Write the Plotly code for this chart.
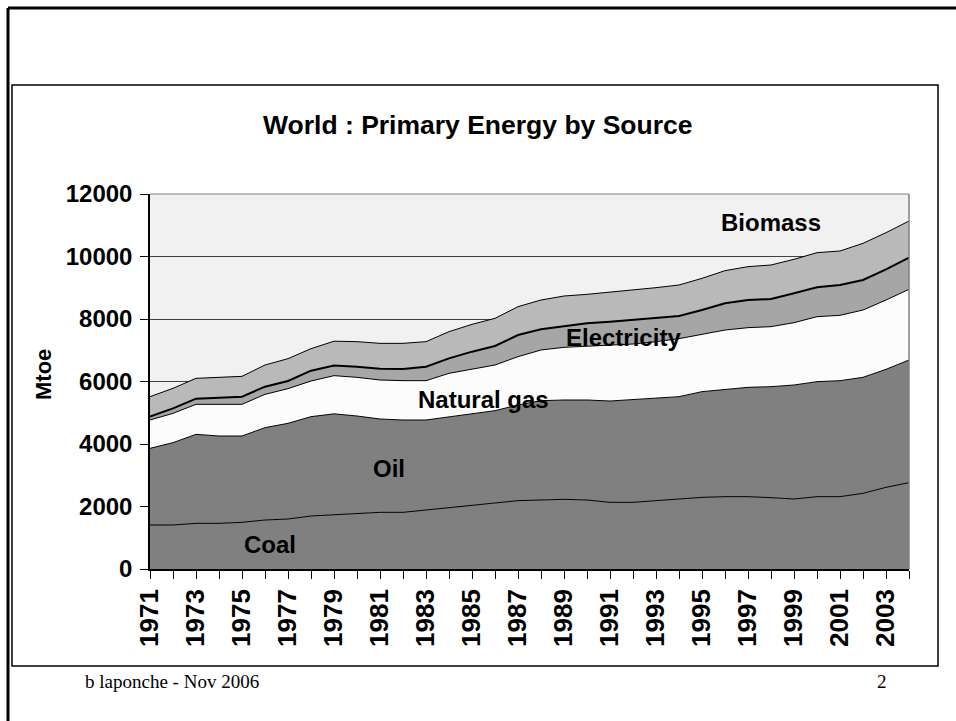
import plotly.graph_objects as go

# World primary energy by source, Mtoe
years = list(range(1971, 2005))

coal = [1408, 1408, 1461, 1461, 1493, 1568, 1600, 1696, 1735, 1781,
        1813, 1813, 1888, 1973, 2048, 2101, 2187, 2208, 2229, 2208,
        2133, 2133, 2187, 2229, 2293, 2315, 2315, 2283, 2240, 2315,
        2315, 2421, 2613, 2763]
oil = [2453, 2635, 2848, 2795, 2763, 2955, 3061, 3179, 3230, 3115,
       2987, 2955, 2880, 2902, 2933, 2966, 3061, 3179, 3179, 3200,
       3243, 3296, 3274, 3286, 3382, 3434, 3498, 3552, 3648, 3680,
       3712, 3712, 3776, 3925]
natural_gas = [907, 938, 960, 1013, 1013, 1066, 1110, 1141, 1222, 1237,
               1248, 1259, 1259, 1386, 1408, 1461, 1547, 1621, 1685, 1728,
               1792, 1771, 1814, 1856, 1834, 1899, 1910, 1920, 1995, 2080,
               2090, 2155, 2219, 2261]
electricity = [107, 160, 182, 214, 246, 246, 245, 331, 325, 342,
               363, 373, 448, 480, 566, 608, 693, 661, 683, 725,
               747, 768, 768, 725, 779, 853, 885, 885, 938, 938,
               971, 960, 981, 1014]
biomass = [640, 640, 650, 650, 650, 693, 715, 704, 778, 800,
           810, 821, 800, 854, 874, 885, 907, 939, 960, 928,
           938, 960, 960, 992, 1013, 1046, 1067, 1088, 1088, 1110,
           1088, 1173, 1174, 1173]

# label text and where it sits (year, Mtoe)
series_labels = [
    ("Coal", 1976.2, 770),
    ("Oil", 1981.4, 3230),
    ("Natural gas", 1985.5, 5410),
    ("Electricity", 1991.6, 7420),
    ("Biomass", 1998.0, 11100),
]

FONT = "Arial, Liberation Sans, sans-serif"
SERIF = "Times New Roman, Liberation Serif, serif"

W, H = 956, 721
L, R, T, B = 150, 47, 194, 152
PW, PH = W - L - R, H - T - B


def px(x):
    return (x - L) / PW


def py(y):
    return (H - B - y) / PH


fig = go.Figure()

layers = [
    ("Coal", coal, "#808080", 1),
    ("Oil", oil, "#808080", 1),
    ("Natural gas", natural_gas, "#FCFCFC", 1),
    ("Electricity", electricity, "#A6A6A6", 2),
    ("Biomass", biomass, "#B9B9B9", 1),
]
for name, vals, color, lw in layers:
    fig.add_trace(
        go.Scatter(
            x=years,
            y=vals,
            name=name,
            mode="lines",
            stackgroup="energy",
            fillcolor=color,
            line=dict(color="black", width=lw),
            hoverinfo="skip",
            showlegend=False,
        )
    )

annotations = []
for text, xv, yv in series_labels:
    annotations.append(dict(
        x=xv, y=yv, xref="x", yref="y", text=f"<b>{text}</b>",
        showarrow=False, font=dict(family=FONT, size=24, color="black"),
    ))


def paper_note(x, y, text, size, family=FONT, **kw):
    return dict(x=px(x), y=py(y), xref="paper", yref="paper", text=text,
                xanchor="center", yanchor="middle", showarrow=False,
                font=dict(family=family, size=size, color="black"), **kw)


# chart title, axis title and slide footer
annotations += [
    paper_note(478, 125, "<b>World : Primary Energy by Source</b>", 26.5),
    paper_note(43, 375, "<b>Mtoe</b>", 22, textangle=-90),
    paper_note(172, 681, "b laponche - Nov 2006", 19, family=SERIF),
    paper_note(882, 681, "2", 19, family=SERIF),
]

shapes = [
    # slide border (left and top)
    dict(type="line", xref="paper", yref="paper", x0=px(8), x1=px(8),
         y0=py(8), y1=py(725), line=dict(color="black", width=3)),
    dict(type="line", xref="paper", yref="paper", x0=px(8), x1=px(960),
         y0=py(8), y1=py(8), line=dict(color="black", width=3)),
    # chart box
    dict(type="rect", xref="paper", yref="paper", x0=px(12), x1=px(938),
         y0=py(666), y1=py(85), line=dict(color="black", width=1.5)),
    # plot area border (right/top)
    dict(type="line", xref="paper", yref="paper", x0=1, x1=1, y0=0, y1=1,
         line=dict(color="#808080", width=1.5)),
    dict(type="line", xref="paper", yref="paper", x0=0, x1=1, y0=1, y1=1,
         line=dict(color="#808080", width=1)),
]

fig.update_layout(
    width=W,
    height=H,
    margin=dict(l=L, r=R, t=T, b=B),
    paper_bgcolor="white",
    plot_bgcolor="#F1F1F1",
    showlegend=False,
    annotations=annotations,
    shapes=shapes,
    font=dict(family=FONT, color="black"),
)

fig.update_xaxes(
    range=[1971, 2004],
    tickvals=years,
    ticktext=[f"<b>{y}</b>" if y % 2 == 1 else "" for y in years],
    tickangle=-90,
    tickfont=dict(family=FONT, size=26, color="black"),
    ticks="outside",
    ticklen=8,
    tickcolor="black",
    showline=True,
    linecolor="black",
    linewidth=1.5,
    showgrid=False,
    zeroline=False,
)
fig.update_yaxes(
    range=[0, 12000],
    tickvals=list(range(0, 12001, 2000)),
    ticktext=[f"<b>{v}</b>" for v in range(0, 12001, 2000)],
    tickfont=dict(family=FONT, size=24, color="black"),
    ticks="outside",
    ticklen=8,
    tickcolor="black",
    ticklabelstandoff=3,
    showline=True,
    linecolor="black",
    linewidth=1.5,
    showgrid=True,
    gridcolor="#404040",
    gridwidth=1,
    zeroline=False,
)

# drop the browser's default page margin so the figure sits at (0, 0)
fig.write_html(
    "out.html",
    config={"displayModeBar": False},
    post_script="document.body.style.margin='0';",
)
